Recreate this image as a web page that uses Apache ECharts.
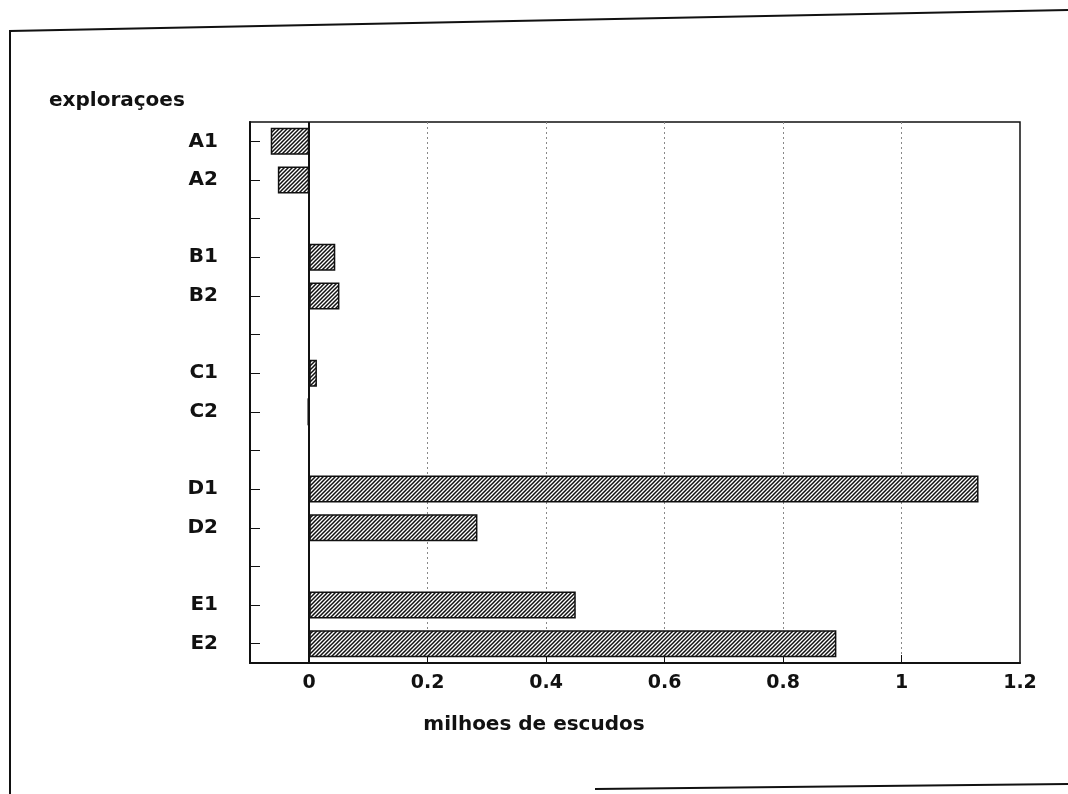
<!DOCTYPE html>
<html>
<head>
<meta charset="utf-8">
<title>exploraçoes</title>
<script src="https://cdn.jsdelivr.net/npm/echarts@6/dist/echarts.min.js"></script>
<style>
  html, body { margin: 0; padding: 0; background: #fff; }
  #chart { width: 1068px; height: 794px; }
</style>
</head>
<body>
<div id="chart"></div>
<script>
// farms (blank entries are the gaps between groups)
const farms = ['A1', 'A2', '', 'B1', 'B2', '', 'C1', 'C2', '', 'D1', 'D2', '', 'E1', 'E2']
// result per farm, millions of escudos
const results = [-0.065, -0.053, null, 0.044, 0.051, null, 0.013, -0.003, null, 1.13, 0.284, null, 0.45, 0.89]
const xLabels = [0, 0.2, 0.4, 0.6, 0.8, 1, 1.2]
const xGrid = [0.2, 0.4, 0.6, 0.8, 1]

const font = 'DejaVu Sans'

// diagonal hatch fill
const makeHatch = () => {
  const c = document.createElement('canvas')
  c.width = 4
  c.height = 4
  const ctx = c.getContext('2d')
  ctx.fillStyle = '#fff'
  ctx.fillRect(0, 0, 4, 4)
  ctx.strokeStyle = '#111'
  ctx.lineWidth = 1.5
  ctx.beginPath()
  ctx.moveTo(-1, 5); ctx.lineTo(5, -1)
  ctx.moveTo(-1, 1); ctx.lineTo(1, -1)
  ctx.moveTo(3, 5); ctx.lineTo(5, 3)
  ctx.stroke()
  return c
}

const chart = echarts.init(document.getElementById('chart'), null, { renderer: 'canvas' })

chart.setOption({
  backgroundColor: '#fff',
  animation: false,
  title: [
    {
      text: 'exploraçoes',
      left: 44, top: 86,
      textStyle: { fontFamily: font, fontSize: 20, fontWeight: 'bold', color: '#111' }
    },
    {
      text: 'milhoes de escudos',
      left: 'center', top: 710,
      textStyle: { fontFamily: font, fontSize: 20, fontWeight: 'bold', color: '#111' }
    }
  ],
  grid: {
    left: 250, right: 48, top: 122, bottom: 131,
    show: true, borderColor: '#111', borderWidth: 1.5
  },
  xAxis: {
    type: 'value',
    min: -0.1, max: 1.2, interval: 0.1,
    axisLine: { show: true, lineStyle: { color: '#111', width: 2 } },
    axisTick: { show: true, inside: true, length: 8, customValues: xGrid, lineStyle: { color: '#111' } },
    axisLabel: { customValues: xLabels, margin: 11, fontFamily: font, fontSize: 19, fontWeight: 'bold', color: '#111' },
    splitLine: { show: true, lineStyle: { color: '#888', type: [2, 3], width: 1 } }
  },
  yAxis: {
    type: 'category',
    data: farms,
    inverse: true,
    axisLine: { show: true, onZero: false, lineStyle: { color: '#111', width: 2 } },
    axisTick: { show: true, inside: true, alignWithLabel: true, length: 10, lineStyle: { color: '#111' } },
    axisLabel: { margin: 32, fontFamily: font, fontSize: 20, fontWeight: 'bold', color: '#111' },
    splitLine: { show: false }
  },
  series: [{
    type: 'bar',
    data: results,
    barWidth: 27,
    itemStyle: {
      color: { image: makeHatch(), repeat: 'repeat' },
      borderColor: '#111',
      borderWidth: 1.5
    },
    markLine: {
      silent: true,
      symbol: 'none',
      label: { show: false },
      lineStyle: { color: '#111', type: 'solid', width: 2 },
      data: [{ xAxis: 0 }]
    }
  }],
  graphic: [
    {
      type: 'polyline',
      silent: true,
      shape: { points: [[10, 794], [10, 31], [1068, 10]] },
      style: { stroke: '#111', lineWidth: 2, fill: null }
    },
    {
      type: 'line',
      silent: true,
      shape: { x1: 595, y1: 789, x2: 1068, y2: 784 },
      style: { stroke: '#111', lineWidth: 2 }
    }
  ]
})
</script>
</body>
</html>
